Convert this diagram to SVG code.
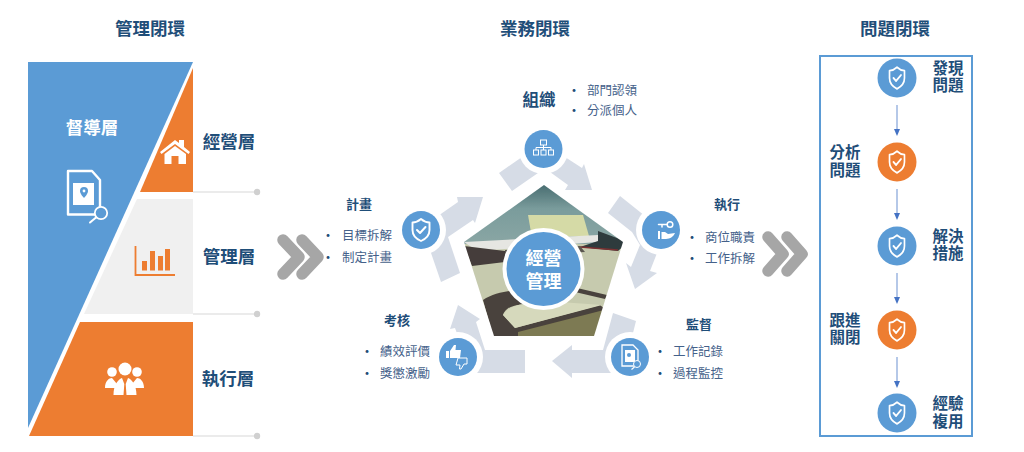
<svg xmlns="http://www.w3.org/2000/svg" width="1024" height="452" viewBox="0 0 1024 452">
<style>
text{font-family:"Noto Sans CJK TC","Noto Sans CJK SC","Liberation Sans",sans-serif;text-anchor:middle}
.t{font-size:17.5px;font-weight:700;fill:#1f4e79}
.h{font-size:13px;font-weight:700;fill:#1f4e79}
.h2{font-size:16.500px;font-weight:700;fill:#1f4e79}
.i{font-size:12.5px;fill:#44618a;text-anchor:start}
.b{font-size:14px;fill:#1f4e79}
.c{font-size:15.500px;font-weight:700;fill:#1f4e79}
.ln{stroke:#e4e4e4;stroke-width:1.5;fill:none}
.dot{fill:#d0d0d0}
.arr{fill:#d6dce6}
.halo{fill:#fff}
.blue{fill:#5b9bd5}
.org{fill:#ed7d31}
.chev{fill:none;stroke:#a6a6a6;stroke-width:11.5;stroke-linecap:round;stroke-linejoin:round}
.flow{stroke:#9db6e0;stroke-width:1.5;fill:none}
</style>
<defs>
<clipPath id="pent"><polygon points="544,185 623,242 594,336 494,336 464,242"/></clipPath>
<filter id="soft" x="-5%" y="-5%" width="110%" height="110%"><feGaussianBlur stdDeviation="0.5"/></filter>
<linearGradient id="sky" x1="0" y1="0" x2="0" y2="1"><stop offset="0" stop-color="#3f6468"/><stop offset=".45" stop-color="#7a9c9c"/><stop offset="1" stop-color="#8aa6a4"/></linearGradient>
<g id="shield"><path fill="none" stroke="#fff" stroke-width="1.900" stroke-linejoin="round" d="M0,-11 C3,-8.500 5.500,-7.500 8.500,-7.500 V0 C8.500,5.500 4.500,9 0,11 C-4.500,9 -8.500,5.500 -8.500,0 V-7.500 C-5.500,-7.500 -3,-8.500 0,-11Z"/><path d="M-4,0 L-1,3 L4.500,-3" fill="none" stroke="#fff" stroke-width="2" stroke-linecap="round" stroke-linejoin="round"/></g>
<marker id="ah" markerWidth="7" markerHeight="6" refX="0" refY="3" orient="auto" markerUnits="userSpaceOnUse"><path d="M0,0 L7,3 L0,6Z" fill="#4472c4"/></marker>
</defs>
<rect width="1024" height="452" fill="#fff"/>

<text class="t" x="150" y="35">管理閉環</text>
<text class="t" x="535" y="35">業務閉環</text>
<text class="t" x="895" y="35">問題閉環</text>

<g id="left-supervise">
<polygon class="blue" points="28,62 193,62 28,428"/>
<text x="92" y="134" font-size="17.500" font-weight="700" fill="#fff">督導層</text>
<path d="M68,171 H92 L100,180 V214.500 H68Z" fill="none" stroke="#fff" stroke-width="2.400" stroke-linejoin="round"/>
<rect x="73" y="183" width="21" height="22" fill="#fff"/>
<path d="M84,187 a4,4 0 0 1 4,4 c0,3-4,7-4,7 s-4,-4-4,-7 a4,4 0 0 1 4,-4Z" fill="#5b9bd5"/>
<circle cx="84" cy="191" r="1.400" fill="#fff"/>
<circle cx="101" cy="213" r="6.200" fill="#5b9bd5" stroke="#fff" stroke-width="1.800"/>
<line x1="96" y1="217.500" x2="90" y2="222.500" stroke="#fff" stroke-width="2" stroke-linecap="round"/>
</g>
<g id="layer-top">
<polygon class="org" points="193,68 193,192 140,192"/>
<path d="M160,152 L175,140 L179,143 V140 H184 V147 L190,152 L188.500,154 L175,144 L161.500,154Z M164.500,154 L175,146 L186,154 V164 H178.500 V156 H171.500 V164 H164.500Z" fill="#fff"/>
<text class="t" x="229" y="148">經營層</text>
<line class="ln" x1="193" y1="192" x2="257" y2="192"/><circle class="dot" cx="257" cy="192" r="3.200"/>
</g>
<g id="layer-mid">
<polygon points="137,199 193,199 193,314 84,314" fill="#f0f0f0"/>
<path d="M135.500,246 V275 H175" fill="none" stroke="#ed7d31" stroke-width="1.800"/>
<rect class="org" x="142" y="261" width="5" height="9.500"/><rect class="org" x="150" y="251" width="5" height="19.500"/><rect class="org" x="158" y="256" width="5" height="14.500"/><rect class="org" x="165" y="249" width="5" height="21.500"/>
<text class="t" x="229" y="263">管理層</text>
<line class="ln" x1="193" y1="314" x2="257" y2="314"/><circle class="dot" cx="257" cy="314" r="3.200"/>
</g>
<g id="layer-bottom">
<polygon class="org" points="80,322 193,322 193,436 29,436"/>
<g fill="#fff">
<circle cx="112" cy="372" r="4.800"/><circle cx="137" cy="372" r="4.800"/>
<path d="M105,388 C105,381 109,378 112,378 L117,384 V388Z M144,388 C144,381 140,378 137,378 L132,384 V388Z"/>
<circle cx="125" cy="369" r="6.500"/>
<path d="M113.500,395 C113.500,384 119,379 122,378 L124.300,384 L123.500,395Z M136.500,395 C136.500,384 131,379 128,378 L125.700,384 L126.500,395Z"/>
</g>
<text class="t" x="228" y="385">執行層</text>
<line class="ln" x1="193" y1="436" x2="257" y2="436"/><circle class="dot" cx="257" cy="436" r="3.200"/>
</g>

<g id="connectors">
<path class="chev" d="M283,240 L299,257 L283,274"/>
<path class="chev" d="M302,240 L318,257 L302,274"/>
<path class="chev" d="M768,237 L783,254 L768,271"/>
<path class="chev" d="M787,237 L802,254 L787,271"/>
<polygon class="arr" points="499,173 522,157 538,173 512,191"/>
<polygon class="arr" points="550,172 565,157 582,168 584,164 592,190 565,190 568,185"/>
<polygon class="arr" points="620,196 608,213 632,232 640,245 631,267 626,263 635,289 657,273 650,271 659,248 650,220"/>
<polygon class="arr" points="636,321 613,313 603,350 572,350 572,345 552,361 572,378 572,373 611,373 630,345"/>
<polygon class="arr" points="525,350 485,350 476,322 480,319 458,305 450,329 455,328 463,350 470,373 525,373"/>
<polygon class="arr" points="430,250 441,282 460,273 448,237 473,220 475,223 483,197 457,197 458,202 425,225"/>
<path class="flow" d="M897,105 V129" marker-end="url(#ah)"/>
<path class="flow" d="M897,189 V213" marker-end="url(#ah)"/>
<path class="flow" d="M897,273 V297" marker-end="url(#ah)"/>
<path class="flow" d="M897,357 V381" marker-end="url(#ah)"/>
</g>

<g id="photo" clip-path="url(#pent)">
<g filter="url(#soft)">
<rect x="455" y="180" width="180" height="165" fill="#c6caae"/>
<rect x="455" y="180" width="180" height="64" fill="url(#sky)"/>
<polygon points="528,215 583,215 589,236 532,238" fill="#d5daa6"/>
<polygon points="464,242 598,235 598,242 477,251" fill="#e6e6e2"/>
<polygon points="598,231 628,242 618,251 580,247 598,241" fill="#2f3a3c"/>
<path d="M580,247 L618,250" stroke="#7a3030" stroke-width="1.500"/>
<polygon points="464,246 505,251 505,262 472,266" fill="#453e3a"/>
<polygon points="505,250 580,246 585,252 505,256" fill="#5a5650"/>
<path d="M483,300 C495,292 510,290 530,290 L530,305 C510,303 505,310 503,315 L515,328 L600,305 L606,310 L595,340 L494,340Z" fill="#4a423c"/>
<path d="M503,315 C510,303 530,302 560,302 L602,305 L515,328Z" fill="#d6d9bc"/>
<polygon points="518,340 596,340 604,310 518,332" fill="#7d7a52"/>
<polygon points="577,288 607,295 605,299 575,292" fill="#4a423c"/>
</g>
</g>

<g id="center">
<circle class="halo" cx="543.500" cy="269" r="41"/>
<circle class="blue" cx="543.500" cy="269" r="37"/>
<text x="543.500" y="265" font-size="18" font-weight="700" fill="#fff">經營</text>
<text x="543.500" y="288" font-size="18" font-weight="700" fill="#fff">管理</text>
</g>

<g id="node-org">
<circle class="halo" cx="543.500" cy="149" r="25"/><circle class="blue" cx="543.500" cy="149" r="19"/>
<g fill="none" stroke="#fff" stroke-width="1"><rect x="540.500" y="140" width="6" height="5"/><rect x="533.500" y="150" width="5" height="5"/><rect x="541" y="150" width="5" height="5"/><rect x="548.500" y="150" width="5" height="5"/><path d="M543.500,145 V150 M536,150 V147.500 H551 V150"/></g>
<text class="h2" x="539" y="106">組織</text>
<text class="b" x="574" y="95">•</text><text class="i" x="587" y="95">部門認領</text>
<text class="b" x="574" y="115">•</text><text class="i" x="587" y="115">分派個人</text>
</g>
<g id="node-exec">
<circle class="halo" cx="661" cy="230" r="25"/><circle class="blue" cx="661" cy="230" r="19"/>
<g fill="none" stroke="#fff" stroke-width="1.500" stroke-linecap="round"><circle cx="670" cy="224.500" r="2.800"/><path d="M667,224.500 H658.500 M662,224.500 V227"/></g>
<path d="M658,231 H660 V239 H658Z M661.500,232 H665 L668,234 L675,233 C674,236 670,239 666,239 H661.500Z" fill="#fff"/>
<text class="h" x="727" y="209">執行</text>
<text class="b" x="692" y="242">•</text><text class="i" x="705" y="242">商位職責</text>
<text class="b" x="692" y="263">•</text><text class="i" x="705" y="263">工作拆解</text>
</g>
<g id="node-monitor">
<circle class="halo" cx="630" cy="357" r="25"/><circle class="blue" cx="630" cy="357" r="19"/>
<path d="M622,345 H633 L638,350 V366 H622Z" fill="none" stroke="#fff" stroke-width="1.300"/>
<rect x="625" y="350" width="10" height="12" fill="#fff"/>
<circle cx="629" cy="355" r="2" fill="#5b9bd5"/>
<circle cx="637" cy="364" r="3.500" fill="#5b9bd5" stroke="#fff" stroke-width="1"/>
<line x1="634.500" y1="367" x2="631.500" y2="369.500" stroke="#fff" stroke-width="1.200"/>
<text class="h" x="699" y="329">監督</text>
<text class="b" x="660" y="356">•</text><text class="i" x="673" y="356">工作記錄</text>
<text class="b" x="660" y="378">•</text><text class="i" x="673" y="378">過程監控</text>
</g>
<g id="node-review">
<circle class="halo" cx="458" cy="357" r="25"/><circle class="blue" cx="458" cy="357" r="19"/>
<path d="M446,351 H449 V358 H446Z M450,351 L454,345 H456 L455.500,350 H461 L460,358 H450Z" fill="#fff"/>
<path d="M458,358 H467 V364 H464 L461,369 H459.500 L460,365 H456Z" fill="none" stroke="#fff" stroke-width="1"/>
<text class="h" x="397" y="325">考核</text>
<text class="b" x="367" y="356">•</text><text class="i" x="380" y="356">績效評價</text>
<text class="b" x="367" y="378">•</text><text class="i" x="380" y="378">獎懲激勵</text>
</g>
<g id="node-plan">
<circle class="halo" cx="421" cy="230" r="25"/><circle class="blue" cx="421" cy="230" r="19"/>
<use href="#shield" x="421" y="230"/>
<text class="h" x="359" y="209">計畫</text>
<text class="b" x="328" y="240">•</text><text class="i" x="342" y="240">目標拆解</text>
<text class="b" x="328" y="262">•</text><text class="i" x="342" y="262">制定計畫</text>
</g>

<g id="problem-box"><rect x="820" y="56" width="152" height="380" fill="none" stroke="#5b9bd5" stroke-width="2"/></g>
<g id="step1"><circle class="blue" cx="897" cy="78" r="19.500"/><use href="#shield" transform="translate(897 78) scale(.88 .98)"/><text class="c" x="948" y="73.500">發現<tspan x="948" dy="17.500">問題</tspan></text></g>
<g id="step2"><circle class="org" cx="897" cy="162" r="19.500"/><use href="#shield" transform="translate(897 162) scale(.88 .98)"/><text class="c" x="845" y="158">分析<tspan x="845" dy="17.500">問題</tspan></text></g>
<g id="step3"><circle class="blue" cx="897" cy="246" r="19.500"/><use href="#shield" transform="translate(897 246) scale(.88 .98)"/><text class="c" x="948" y="241.500">解決<tspan x="948" dy="17.500">措施</tspan></text></g>
<g id="step4"><circle class="org" cx="897" cy="330" r="19.500"/><use href="#shield" transform="translate(897 330) scale(.88 .98)"/><text class="c" x="845" y="325.500">跟進<tspan x="845" dy="17.500">關閉</tspan></text></g>
<g id="step5"><circle class="blue" cx="897" cy="413" r="19.500"/><use href="#shield" transform="translate(897 413) scale(.88 .98)"/><text class="c" x="948" y="409">經驗<tspan x="948" dy="17.500">複用</tspan></text></g>
</svg>
